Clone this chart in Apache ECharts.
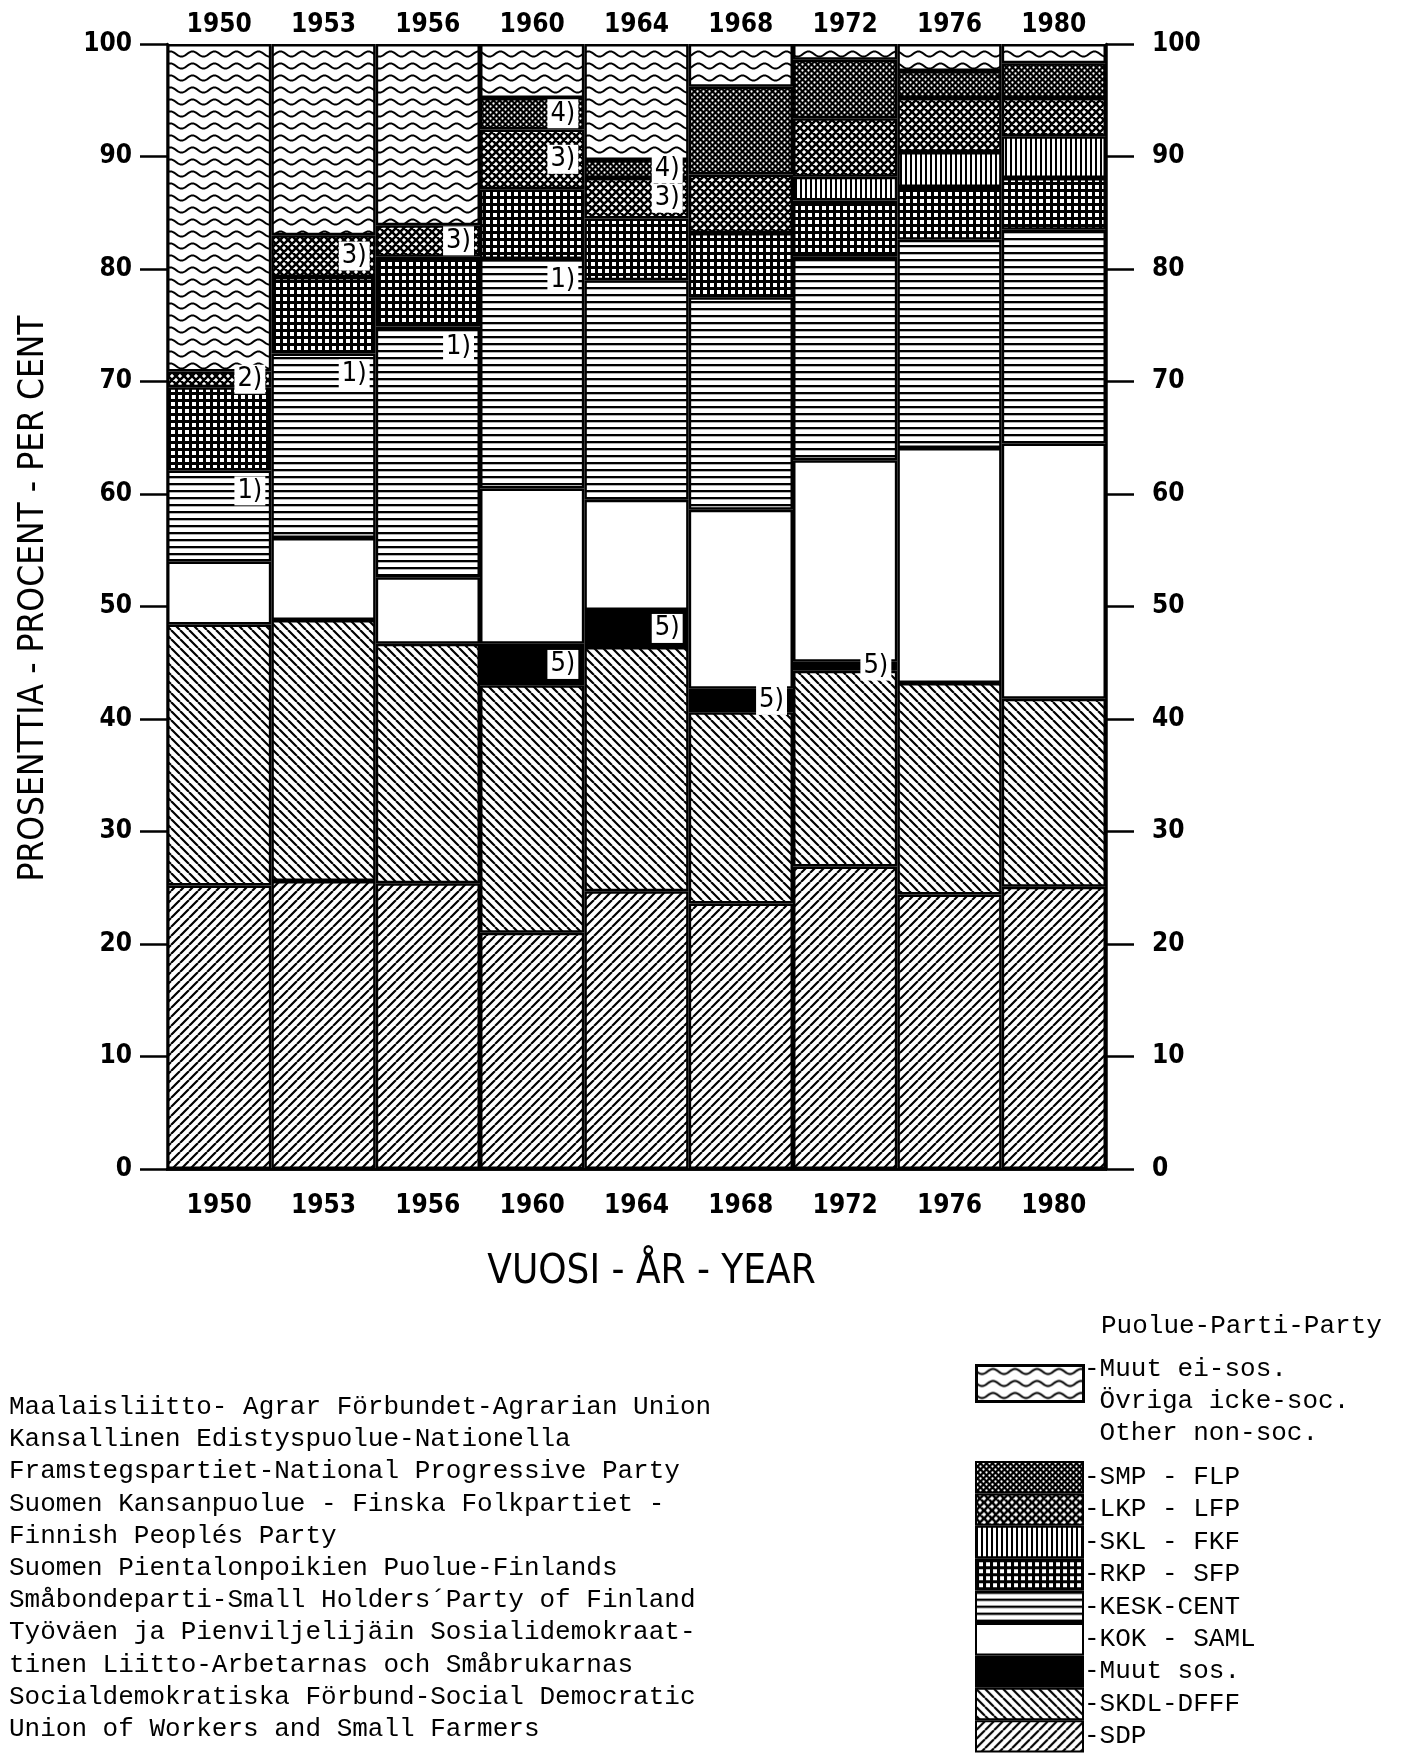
<!DOCTYPE html>
<html><head><meta charset="utf-8">
<script src="https://cdn.jsdelivr.net/npm/echarts@6/dist/echarts.min.js"></script>
<style>html,body{margin:0;padding:0;background:#fff}#c{width:1403px;height:1753px}</style>
</head><body><div id="c"></div>
<script>
// ---- data (percent of votes, municipal elections) ----
const years = ['1950','1953','1956','1960','1964','1968','1972','1976','1980'];
const sdp       = [25.2,25.6,25.4,21.0,24.7,23.6,26.9,24.4,25.1];
const skdl      = [23.2,23.2,21.3,22.0,21.7,17.0,17.4,18.8,16.7];
const muutSos   = [null,null,null,3.7,3.3,2.1,0.8,null,null];
const kok       = [5.6,7.3,5.9,13.8,9.8,15.9,17.9,20.9,22.7];
const kesk      = [8.1,16.4,22.3,20.4,19.5,18.9,18.1,18.5,19.0];
const rkp       = [7.4,6.8,6.2,6.2,5.5,5.7,5.0,4.7,4.6];
const skl       = [null,null,null,null,null,null,2.1,3.1,3.7];
const lkp       = [1.4,3.7,2.8,5.3,3.6,5.2,5.2,4.8,3.4];
const smp       = [null,null,null,2.8,1.6,7.8,5.2,2.4,3.1];
const muutEiSos = [29.1,17.0,16.1,4.8,10.3,3.8,1.4,2.4,1.7];
// footnote markers
const keskNotes    = ['1)','1)','1)','1)',null,null,null,null,null];
const lkpNotes     = ['2)','3)','3)','3)','3)',null,null,null,null];
const smpNotes     = [null,null,null,'4)','4)',null,null,null,null];
const muutSosNotes = [null,null,null,'5)','5)','5)','5)',null,null];
const seriesNames = ['SDP','SKDL-DFFF','Muut sos.','KOK - SAML','KESK-CENT','RKP - SFP','SKL - FKF','LKP - LFP','SMP - FLP','Muut ei-sos.'];
const legendOrder = ['SMP - FLP','LKP - LFP','SKL - FKF','RKP - SFP','KESK-CENT','KOK - SAML','Muut sos.','SKDL-DFFF','SDP'];
const otherLegendLines = ['-Muut ei-sos.',' Övriga icke-soc.',' Other non-soc.'];
const footnoteLines = [
 'Maalaisliitto- Agrar Förbundet-Agrarian Union',
 'Kansallinen Edistyspuolue-Nationella',
 'Framstegspartiet-National Progressive Party',
 'Suomen Kansanpuolue - Finska Folkpartiet -',
 'Finnish Peoplés Party',
 'Suomen Pientalonpoikien Puolue-Finlands',
 'Småbondeparti-Small Holders´Party of Finland',
 'Työväen ja Pienviljelijäin Sosialidemokraat-',
 'tinen Liitto-Arbetarnas och Småbrukarnas',
 'Socialdemokratiska Förbund-Social Democratic',
 'Union of Workers and Small Farmers'
];

// ---- patterns ----
function pat(w,h,bg,draw){
  const c=document.createElement('canvas'); c.width=w; c.height=h;
  const g=c.getContext('2d'); g.fillStyle=bg; g.fillRect(0,0,w,h);
  g.strokeStyle='#000'; g.fillStyle='#000'; draw(g,w,h);
  return {image:c, repeat:'repeat'};
}
const P = {
  sdp: pat(9,9,'#fff',(g,w,h)=>{g.lineWidth=2.2;g.beginPath();for(const k of [-1,0,1]){g.moveTo(k*w,h);g.lineTo(k*w+w,0);}g.stroke();}),
  skdl: pat(9,9,'#fff',(g,w,h)=>{g.lineWidth=2.2;g.beginPath();for(const k of [-1,0,1]){g.moveTo(k*w,0);g.lineTo(k*w+w,h);}g.stroke();}),
  muutSos: '#000',
  kok: '#fff',
  kesk: pat(8,7,'#fff',(g,w,h)=>{g.fillRect(0,0,w,2.3);}),
  rkp: pat(7,7,'#000',(g,w,h)=>{g.fillStyle='#fff';g.fillRect(3,3,4,4);}),
  skl: pat(5,5,'#fff',(g,w,h)=>{g.fillRect(0,0,2,h);}),
  lkp: pat(8,8,'#fff',(g,w,h)=>{g.lineWidth=2.6;g.beginPath();for(const k of [-1,0,1]){g.moveTo(k*w,0);g.lineTo(k*w+w,h);g.moveTo(k*w,h);g.lineTo(k*w+w,0);}g.stroke();}),
  smp: pat(6,6,'#000',(g)=>{g.fillStyle='#fff';g.beginPath();g.arc(1.5,1.5,1.15,0,2*Math.PI);g.moveTo(5.65,4.5);g.arc(4.5,4.5,1.15,0,2*Math.PI);g.fill();}),
  wavy: pat(22,12,'#fff',(g,w,h)=>{g.lineWidth=2;g.beginPath();let first=true;for(let x=-1;x<=w+1;x+=0.5){const y=6+2.6*Math.sin(2*Math.PI*x/w);if(first){g.moveTo(x,y);first=false;}else g.lineTo(x,y);}g.stroke();})
};

const FS = "'DejaVu Sans Condensed','DejaVu Sans',sans-serif";
const FM = "'Liberation Mono','DejaVu Sans Mono',monospace";

function withNotes(vals, notes, pos){
  return vals.map((v,i)=>{
    if(v==null) return '-';
    if(!notes || !notes[i]) return v;
    return {value:v, label:{show:true, formatter:notes[i], position:pos, distance:6,
      backgroundColor:'#fff', padding:[1,3,0,3], color:'#000', fontSize:27, fontFamily:FS, lineHeight:28}};
  });
}
const stackData = [
  [sdp,null,'insideRight',P.sdp],
  [skdl,null,'insideRight',P.skdl],
  [muutSos,muutSosNotes,'insideRight',P.muutSos],
  [kok,null,'insideRight',P.kok],
  [kesk,keskNotes,'insideTopRight',P.kesk],
  [rkp,null,'insideRight',P.rkp],
  [skl,null,'insideRight',P.skl],
  [lkp,lkpNotes,'insideRight',P.lkp],
  [smp,smpNotes,'insideRight',P.smp],
  [muutEiSos,null,'insideRight',P.wavy]
];
const series = stackData.map((d,i)=>({
  name: seriesNames[i], type:'bar', stack:'all', xAxisIndex:0, yAxisIndex:0,
  barCategoryGap:'0%', data: withNotes(d[0], d[1], d[2]),
  itemStyle:{color:d[3], borderColor:'#000', borderWidth:2.5},
  emphasis:{disabled:true}, label:{show:false}
}));

const axisLine = {show:true, lineStyle:{color:'#000', width:2.5}};
const tickFont = {color:'#000', fontSize:26, fontWeight:'bold', fontFamily:FS};
const chart = echarts.init(document.getElementById('c'), null, {renderer:'canvas'});
chart.setOption({
  animation:false,
  backgroundColor:'#fff',
  grid:{left:167, right:297, top:44, bottom:584, outerBoundsMode:'none'},
  xAxis:[
    {type:'category', data:years, position:'bottom', axisLine, axisTick:{show:false},
     axisLabel:Object.assign({margin:24}, tickFont),
     name:'VUOSI - ÅR - YEAR', nameLocation:'middle', nameGap:84,
     nameTextStyle:{color:'#000', fontSize:40, fontFamily:FS, padding:[0,0,0,30]}},
    {type:'category', data:years, position:'top', axisLine, axisTick:{show:false},
     axisLabel:Object.assign({margin:6}, tickFont)}
  ],
  yAxis:[
    {type:'value', min:0, max:100, interval:10, position:'left', axisLine,
     axisTick:{show:true, length:27, lineStyle:{color:'#000', width:2.5}},
     axisLabel:Object.assign({margin:35}, tickFont),
     splitLine:{show:false},
     name:'PROSENTTIA - PROCENT - PER CENT', nameLocation:'middle', nameRotate:90, nameGap:116,
     nameTextStyle:{color:'#000', fontSize:35, fontFamily:FS, padding:[0,0,0,16]}},
    {type:'value', min:0, max:100, interval:10, position:'right', axisLine,
     axisTick:{show:true, length:28, lineStyle:{color:'#000', width:2.5}},
     axisLabel:Object.assign({margin:46}, tickFont),
     splitLine:{show:false}}
  ],
  legend:[
    {orient:'vertical', left:975, top:1364, padding:0, itemWidth:107, itemHeight:36, itemGap:0,
     icon:'rect', selectedMode:false, data:['Muut ei-sos.'], formatter:()=>'',
     itemStyle:{borderColor:'#000', borderWidth:3},
     textStyle:{color:'#000', fontSize:26, fontFamily:FM}},
    {orient:'vertical', left:975, top:1461, height:320, padding:0, itemWidth:107, itemHeight:30.4, itemGap:0,
     icon:'rect', selectedMode:false, data:legendOrder,
     formatter:n=>'-'+n,
     itemStyle:{borderColor:'#000', borderWidth:2},
     textStyle:{color:'#000', fontSize:26, fontFamily:FM, lineHeight:28, padding:[0,0,0,-4]}}
  ],
  graphic:[
    {type:'text', left:1101, top:1313, style:{text:'Puolue-Parti-Party', fill:'#000', font:"26px 'Liberation Mono', monospace"}},
    {type:'text', left:1084, top:1353, style:{text:otherLegendLines.join('\n'), fill:'#000', font:"26px 'Liberation Mono', monospace", lineHeight:32}},
    {type:'text', left:9, top:1391, style:{text:footnoteLines.join('\n'), fill:'#000', font:"26px 'Liberation Mono', monospace", lineHeight:32.2}}
  ],
  series
});
</script></body></html>
